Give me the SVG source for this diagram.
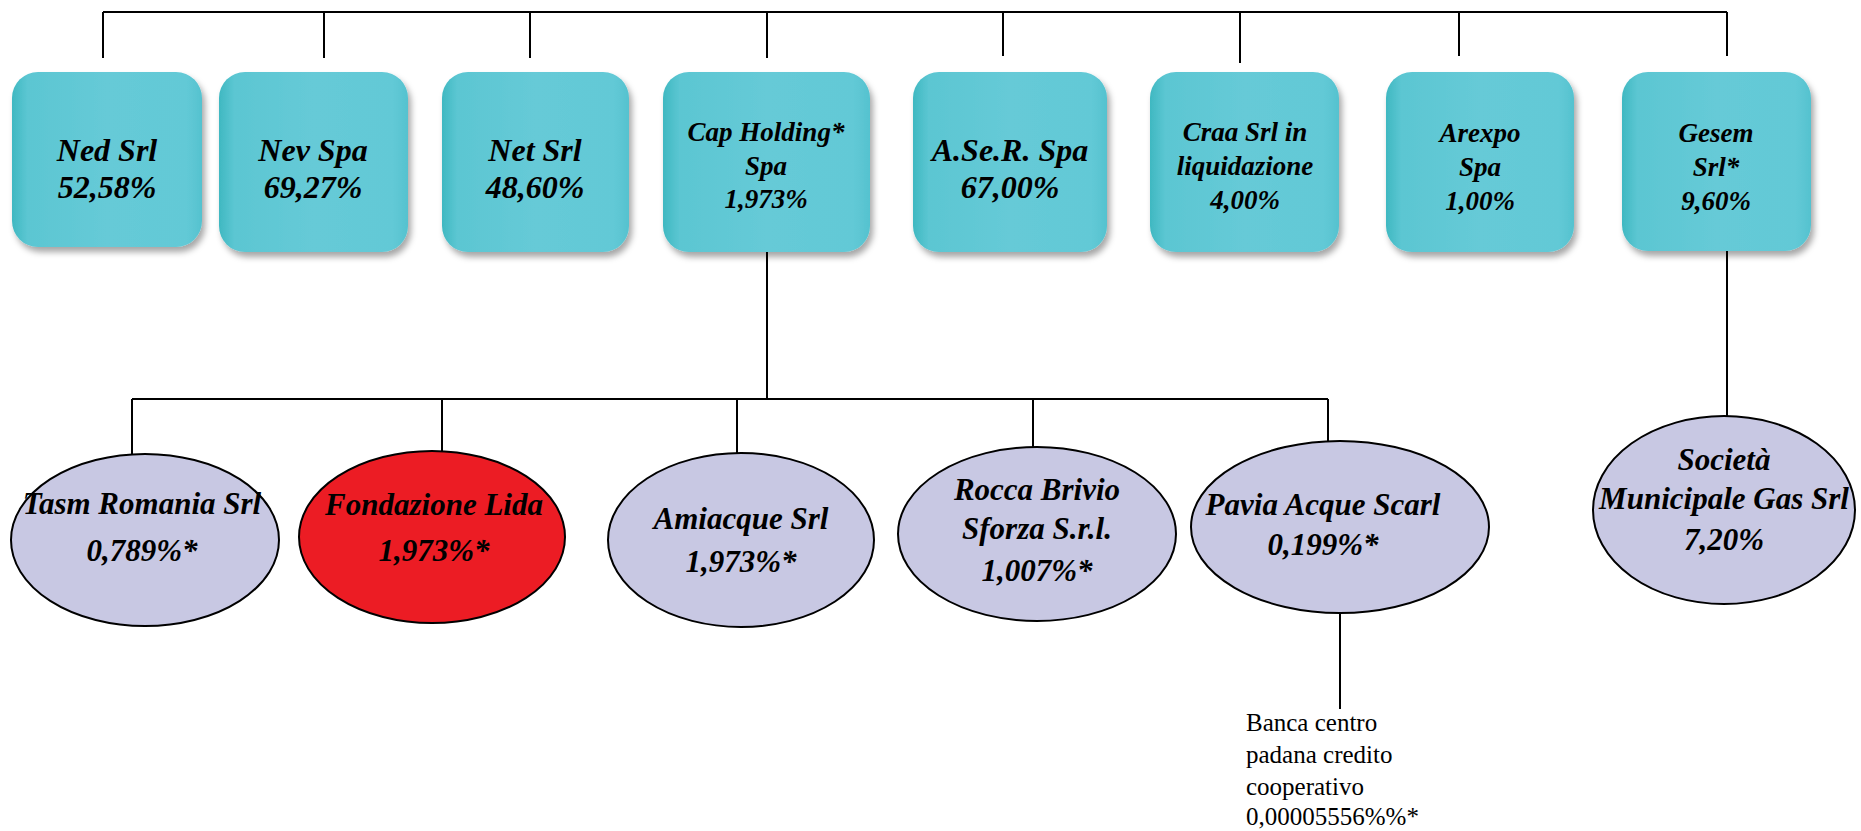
<svg xmlns="http://www.w3.org/2000/svg" width="1861" height="831" viewBox="0 0 1861 831" font-family="'Liberation Serif', 'Times New Roman', Times, 'DejaVu Serif', serif">
<defs>
<linearGradient id="boxg" x1="0" y1="0" x2="1" y2="0">
<stop offset="0" stop-color="#3fb8c1"/>
<stop offset="0.08" stop-color="#5bc6d2"/>
<stop offset="0.5" stop-color="#66cad7"/>
<stop offset="0.92" stop-color="#62c9d6"/>
<stop offset="1" stop-color="#55c2cf"/>
</linearGradient>
<filter id="sh" x="-10%" y="-10%" width="125%" height="125%">
<feDropShadow dx="3" dy="5" stdDeviation="3" flood-color="#000" flood-opacity="0.35"/>
</filter>
</defs>
<style>
.box{fill:url(#boxg);filter:url(#sh);}
.ell{fill:#c8c8e3;stroke:#000;stroke-width:2;}
.red{fill:#ec1c24;stroke:#000;stroke-width:2;}
text{font-family:'Liberation Serif','Times New Roman',Times,'DejaVu Serif',serif;}
.t{font-weight:bold;font-style:italic;fill:#000;text-anchor:middle;}
.b32{font-size:32px;}
.b27{font-size:27px;}
.e31{font-size:31px;}
.plain{font-size:25px;fill:#000;}
.c{fill:none;stroke:#000;stroke-width:2;}
</style>
<rect width="1861" height="831" fill="#fff"/>
<g id="connectors">
<path class="c" d="M103 12H1727M103 12V58M324 12V58M530 12V58M767 12V58M1003 12V56M1240 12V63M1459 12V56M1727 12V56"/>
<path class="c" d="M767 252V399M132 399H1328M132 399V455M442 399V451M737 399V453M1033 399V447M1328 399V441"/>
<path class="c" d="M1340 613V709"/>
<path class="c" d="M1727 251V416"/>
</g>
<g id="ned"><rect class="box" x="12" y="72" width="190" height="175" rx="26"/>
<text class="t b32" x="107" y="161">Ned Srl</text><text class="t b32" x="107" y="198">52,58%</text></g>
<g id="nev"><rect class="box" x="219" y="72" width="189" height="180" rx="26"/>
<text class="t b32" x="313" y="161">Nev Spa</text><text class="t b32" x="313" y="198">69,27%</text></g>
<g id="net"><rect class="box" x="442" y="72" width="187" height="180" rx="26"/>
<text class="t b32" x="535" y="161">Net Srl</text><text class="t b32" x="535" y="198">48,60%</text></g>
<g id="cap"><rect class="box" x="663" y="72" width="207" height="180" rx="26"/>
<text class="t b27" x="766" y="141">Cap Holding*</text><text class="t b27" x="766" y="175">Spa</text><text class="t b27" x="766" y="208">1,973%</text></g>
<g id="aser"><rect class="box" x="913" y="72" width="194" height="180" rx="26"/>
<text class="t b32" x="1010" y="161">A.Se.R. Spa</text><text class="t b32" x="1010" y="198">67,00%</text></g>
<g id="craa"><rect class="box" x="1150" y="72" width="189" height="180" rx="26"/>
<text class="t b27" x="1245" y="141">Craa Srl in</text><text class="t b27" x="1245" y="175">liquidazione</text><text class="t b27" x="1245" y="209">4,00%</text></g>
<g id="arexpo"><rect class="box" x="1386" y="72" width="188" height="180" rx="26"/>
<text class="t b27" x="1480" y="142">Arexpo</text><text class="t b27" x="1480" y="176">Spa</text><text class="t b27" x="1480" y="210">1,00%</text></g>
<g id="gesem"><rect class="box" x="1622" y="72" width="189" height="179" rx="26"/>
<text class="t b27" x="1716" y="142">Gesem</text><text class="t b27" x="1716" y="176">Srl*</text><text class="t b27" x="1716" y="210">9,60%</text></g>
<g id="tasm"><ellipse class="ell" cx="145" cy="540" rx="134" ry="86"/>
<text class="t e31" x="142" y="514">Tasm Romania Srl</text><text class="t e31" x="142" y="561">0,789%*</text></g>
<g id="fondazione"><ellipse class="red" cx="432" cy="537" rx="133" ry="86"/>
<text class="t e31" x="434" y="515">Fondazione Lida</text><text class="t e31" x="434" y="561">1,973%*</text></g>
<g id="amiacque"><ellipse class="ell" cx="741" cy="540" rx="133" ry="87"/>
<text class="t e31" x="741" y="529">Amiacque Srl</text><text class="t e31" x="741" y="572">1,973%*</text></g>
<g id="rocca"><ellipse class="ell" cx="1037" cy="534" rx="139" ry="87"/>
<text class="t e31" x="1037" y="500">Rocca Brivio</text><text class="t e31" x="1037" y="539">Sforza S.r.l.</text><text class="t e31" x="1037" y="581">1,007%*</text></g>
<g id="pavia"><ellipse class="ell" cx="1340" cy="527" rx="149" ry="86"/>
<text class="t e31" x="1323" y="515">Pavia Acque Scarl</text><text class="t e31" x="1323" y="555">0,199%*</text></g>
<g id="societa"><ellipse class="ell" cx="1724" cy="510" rx="131" ry="94"/>
<text class="t e31" x="1724" y="470">Società</text><text class="t e31" x="1724" y="509">Municipale Gas Srl</text><text class="t e31" x="1724" y="550">7,20%</text></g>
<g id="banca"><text class="plain" x="1246" y="731">Banca centro</text><text class="plain" x="1246" y="763">padana credito</text><text class="plain" x="1246" y="795">cooperativo</text><text class="plain" x="1246" y="825">0,00005556%%*</text></g>
</svg>
